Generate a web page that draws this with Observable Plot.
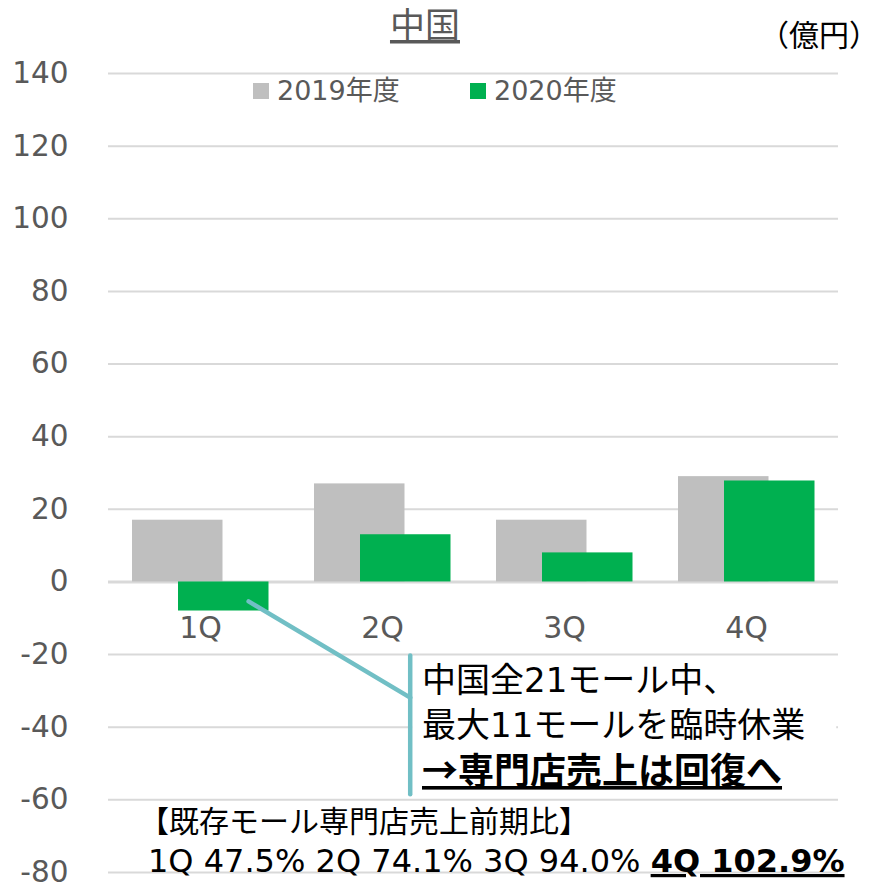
<!DOCTYPE html>
<html>
<head>
<meta charset="utf-8">
<script src="https://cdn.jsdelivr.net/npm/d3@7"></script>
<script src="https://cdn.jsdelivr.net/npm/@observablehq/plot@0.6"></script>
<style>
  html, body { margin: 0; padding: 0; background: #ffffff; }
  #chart svg { display: block; }
</style>
</head>
<body>
<div id="chart"></div>
<script>
// ---- data ----
const quarters = ["1Q", "2Q", "3Q", "4Q"];
const fy2019 = [17, 27, 17, 29];
const fy2020 = [-8, 13, 8, 27.8];
const yTicks = [-80, -60, -40, -20, 0, 20, 40, 60, 80, 100, 120, 140];
const seriesNames = ["2019年度", "2020年度"];
const seriesColors = ["#bfbfbf", "#00b050"];
const titleText = "中国";
const unitText = "（億円）";
const noteLines = ["中国全21モール中、", "最大11モールを臨時休業", "→専門店売上は回復へ"];
const ratioTitle = "【既存モール専門店売上前期比】";
const ratioPlain = "1Q 47.5% 2Q 74.1% 3Q 94.0% ";
const ratioBold = "4Q 102.9%";

const rows2019 = quarters.map((q, i) => ({q, v: fy2019[i]}));
const rows2020 = quarters.map((q, i) => ({q, v: fy2020[i]}));

const FONT = "'DejaVu Sans', 'Noto Sans CJK JP', sans-serif";
const CJK = "'Noto Sans CJK JP', 'DejaVu Sans', sans-serif";
const TXT = "#595959";

const plot = Plot.plot({
  width: 874,
  height: 883,
  marginTop: 73,
  marginBottom: 11,
  marginLeft: 108,
  marginRight: 36,
  x: {type: "band", domain: quarters, padding: 0, axis: null},
  y: {domain: [-80, 140]},
  style: {fontFamily: FONT, background: "#ffffff", color: TXT, overflow: "visible"},
  marks: [
    Plot.ruleY(yTicks, {stroke: "#d9d9d9", strokeWidth: 2}),
    Plot.ruleY([0], {stroke: "#d9d9d9", strokeWidth: 3}),
    Plot.barY(rows2019, {x: "q", y: "v", fill: seriesColors[0], insetLeft: 23, insetRight: 68.5}),
    Plot.barY(rows2020, {x: "q", y: "v", fill: seriesColors[1], insetLeft: 69, insetRight: 22.5}),
    Plot.axisY({ticks: yTicks, tickFormat: d => String(d), tickSize: 0, tickPadding: 40, fontSize: 29.5, label: null, fill: TXT}),
    Plot.text(quarters, {x: d => d, y: () => 0, text: d => d, dy: 46, fontSize: 30, fill: TXT})
  ]
});

document.getElementById("chart").appendChild(plot);

const xs = plot.scale("x");
const ys = plot.scale("y");
const bw = xs.bandwidth;
const svg = d3.select(plot);
const g = svg.append("g").attr("text-anchor", "start");

// title
g.append("text").attr("x", 425).attr("y", 38).attr("text-anchor", "middle")
  .attr("font-family", CJK).attr("font-size", 35).attr("fill", TXT)
  .style("text-decoration", "underline").text(titleText);

// unit
g.append("text").attr("x", 864).attr("y", 46).attr("text-anchor", "end")
  .attr("font-family", CJK).attr("font-size", 30).attr("fill", "#000000")
  .style("font-feature-settings", "'halt' 1").text(unitText);

// legend
const legX = [253, 470];
seriesNames.forEach((name, i) => {
  g.append("rect").attr("x", legX[i]).attr("y", 83).attr("width", 16).attr("height", 16)
    .attr("fill", seriesColors[i]);
  g.append("text").attr("x", legX[i] + 24).attr("y", 100).attr("font-family", FONT)
    .attr("font-size", 27).attr("fill", TXT).text(name);
});

// callout connector
const x1 = xs.apply("1Q") + bw * 0.767;
const yStart = ys.apply(-5.5);
const xe = xs.apply("2Q") + bw * 0.655;
const yElbow = ys.apply(-32);
g.append("rect").attr("x", xe + 2).attr("y", ys.apply(-20.7)).attr("width", 424)
  .attr("height", ys.apply(-58.3) - ys.apply(-20.7)).attr("fill", "#ffffff");
g.append("line").attr("x1", x1).attr("y1", yStart).attr("x2", xe).attr("y2", yElbow)
  .attr("stroke", "#71bfc5").attr("stroke-width", 4.5).attr("stroke-linecap", "round");
g.append("line").attr("x1", xe).attr("y1", ys.apply(-20.4)).attr("x2", xe).attr("y2", ys.apply(-58.6))
  .attr("stroke", "#71bfc5").attr("stroke-width", 4.5).attr("stroke-linecap", "round");

// callout text
const noteY = [692, 737, 784];
noteLines.forEach((t, i) => {
  const el = g.append("text").attr("x", 422).attr("y", noteY[i]).attr("fill", "#000000")
    .attr("font-size", i === 2 ? 36 : 34)
    .attr("font-family", i === 2 ? CJK : FONT).text(t);
  if (i === 2) el.attr("font-weight", "bold").style("text-decoration", "underline");
});

// ratio text
g.append("text").attr("x", 139).attr("y", 832).attr("font-family", CJK)
  .attr("font-size", 30).attr("fill", "#000000").text(ratioTitle);
const rt = g.append("text").attr("x", 148).attr("y", 872).attr("font-family", FONT)
  .attr("font-size", 32).attr("fill", "#000000")
  .style("white-space", "pre");
rt.append("tspan").text(ratioPlain);
rt.append("tspan").attr("font-weight", "bold").style("text-decoration", "underline").text(ratioBold);
</script>
</body>
</html>
